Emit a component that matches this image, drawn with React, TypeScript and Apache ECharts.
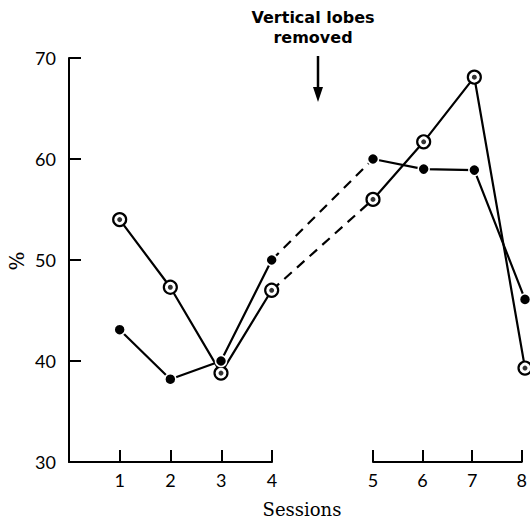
import React, { useEffect, useRef } from "react";
import * as echarts from "echarts";

const sessions = [1, 2, 3, 4, 5, 6, 7, 8];
const openValues = [54.0, 47.3, 38.8, 47.0, 56.0, 61.7, 68.1, 39.3];
const filledValues = [43.1, 38.2, 40.0, 50.0, 60.0, 59.0, 58.9, 46.1];
const yTicks = [30, 40, 50, 60, 70];
const firstBlock = [1, 2, 3, 4];
const secondBlock = [5, 6, 7, 8];
const gapUnits = 1;
const annotationLines = ["Vertical lobes", "removed"];
const xTitle = "Sessions";
const yTitle = "%";

const lastA = firstBlock[firstBlock.length - 1];
const firstB = secondBlock[0];
const toPos = (s: number) => (s <= lastA ? s : s + gapUnits);
const pts = (values: number[], list: number[]) =>
  list.map((s) => [toPos(s), values[sessions.indexOf(s)]]);

const SANS = "Lato, 'Open Sans', sans-serif";
const TITLE_SANS = "'DejaVu Sans', 'Open Sans', sans-serif";
const SERIF = "'DejaVu Serif', 'Liberation Serif', serif";

export default function App() {
  const ref = useRef<HTMLDivElement>(null);
  useEffect(() => {
    if (!ref.current) return;
    const chart = echarts.init(ref.current, undefined, { renderer: "svg" });
    const black = "#000";
    const top = 58;
    const bottom = 58;
    const axisLine = { show: true, lineStyle: { color: black, width: 2 } };
    const axisTick = { show: true, inside: true, length: 12, lineStyle: { color: black, width: 2 } };
    const xLabel = { show: true, color: black, fontFamily: SANS, fontSize: 18, margin: 9 };

    const openSymbol = {
      symbol: "circle",
      symbolSize: 13,
      itemStyle: { color: "#fff", borderColor: black, borderWidth: 2.2 },
    };
    const filledSymbol = {
      symbol: "circle",
      symbolSize: 11,
      itemStyle: { color: black, borderColor: "#fff", borderWidth: 1.5 },
    };
    const lineBase = (data: number[][], extra: any, z: number, dashed = false) => ({
      type: "line",
      xAxisIndex: 0,
      yAxisIndex: 0,
      data,
      clip: false,
      silent: true,
      z,
      lineStyle: { color: black, width: 2.2, type: dashed ? [10, 7] : "solid" },
      ...extra,
    });

    const series: any[] = [
      lineBase(pts(openValues, [lastA, firstB]), { symbol: "none" }, 1, true),
      lineBase(pts(filledValues, [lastA, firstB]), { symbol: "none" }, 1, true),
      lineBase(pts(openValues, firstBlock), openSymbol, 2),
      lineBase(pts(openValues, secondBlock), openSymbol, 2),
      {
        type: "scatter",
        xAxisIndex: 0,
        yAxisIndex: 0,
        data: pts(openValues, sessions),
        symbol: "circle",
        symbolSize: 5,
        itemStyle: { color: black },
        clip: false,
        silent: true,
        z: 3,
      },
      lineBase(pts(filledValues, firstBlock), filledSymbol, 4),
      lineBase(pts(filledValues, secondBlock), filledSymbol, 4),
    ];

    const titleText = (text: string, y: number) => ({
      type: "text",
      x: 313,
      y,
      style: {
        text,
        fill: black,
        font: `bold 16px ${TITLE_SANS}`,
        align: "center",
        verticalAlign: "middle",
        textAlign: "center",
        textVerticalAlign: "middle",
      },
    });

    chart.setOption({
      animation: false,
      backgroundColor: "#fff",
      grid: [
        { left: 69, right: 5, top, bottom },
        { left: 69, width: 203, top, bottom },
        { left: 373, width: 152, top, bottom },
      ],
      xAxis: [
        { type: "value", gridIndex: 0, min: 0, max: toPos(secondBlock[secondBlock.length - 1]), show: false },
        {
          type: "value",
          gridIndex: 1,
          min: 0,
          max: lastA,
          interval: 1,
          axisLine,
          axisTick,
          splitLine: { show: false },
          axisLabel: {
            ...xLabel,
            formatter: (v: number) => (firstBlock.includes(v) ? String(v) : ""),
          },
        },
        {
          type: "value",
          gridIndex: 2,
          min: firstB,
          max: secondBlock[secondBlock.length - 1],
          interval: 1,
          axisLine,
          axisTick,
          splitLine: { show: false },
          axisLabel: { ...xLabel, showMinLabel: true, showMaxLabel: true },
        },
      ],
      yAxis: [
        {
          type: "value",
          gridIndex: 0,
          min: yTicks[0],
          max: yTicks[yTicks.length - 1],
          interval: yTicks[1] - yTicks[0],
          offset: 2,
          axisLine,
          axisTick,
          splitLine: { show: false },
          axisLabel: { color: black, fontFamily: SANS, fontSize: 18, margin: 11 },
        },
        { type: "value", gridIndex: 1, min: yTicks[0], max: yTicks[yTicks.length - 1], show: false },
        { type: "value", gridIndex: 2, min: yTicks[0], max: yTicks[yTicks.length - 1], show: false },
      ],
      series,
      graphic: [
        titleText(annotationLines[0], 17),
        titleText(annotationLines[1], 37),
        {
          type: "line",
          shape: { x1: 318, y1: 56, x2: 318, y2: 90 },
          style: { stroke: black, lineWidth: 2.5 },
        },
        {
          type: "polygon",
          shape: { points: [[313, 87], [323, 87], [318, 102]] },
          style: { fill: black },
        },
        {
          type: "text",
          x: 302,
          y: 509,
          style: {
            text: xTitle,
            fill: black,
            font: `18px ${SERIF}`,
            align: "center",
            verticalAlign: "middle",
            textAlign: "center",
            textVerticalAlign: "middle",
          },
        },
        {
          type: "text",
          x: 17,
          y: 261,
          rotation: Math.PI / 2,
          style: {
            text: yTitle,
            fill: black,
            font: `20px ${SERIF}`,
            align: "center",
            verticalAlign: "middle",
            textAlign: "center",
            textVerticalAlign: "middle",
          },
        },
      ],
    });
    return () => chart.dispose();
  }, []);
  return (
    <div
      ref={ref}
      style={{ position: "absolute", left: 0, top: 0, width: 530, height: 520, background: "#fff" }}
    />
  );
}
